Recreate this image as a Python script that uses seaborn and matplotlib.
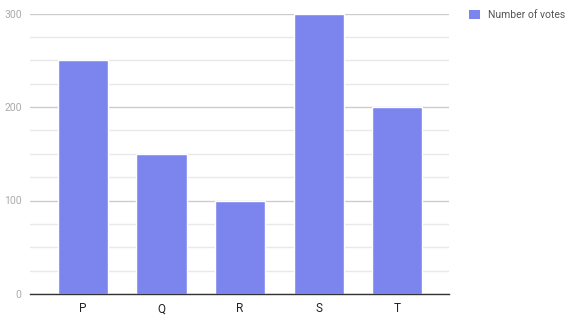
import matplotlib
matplotlib.use("Agg")
import matplotlib.pyplot as plt
import seaborn as sns
import pandas as pd
from matplotlib.patches import Patch

categories = ["P", "Q", "R", "S", "T"]
votes = [250, 150, 100, 300, 200]
series_name = "Number of votes"
y_ticks = [0, 100, 200, 300]
minor_ticks = [25, 50, 75, 125, 150, 175, 225, 250, 275]

color = "#7c84ee"
sns.set_theme(style="white")
plt.rcParams['font.family'] = ['Roboto', 'DejaVu Sans']

df = pd.DataFrame({"cat": categories, "val": votes})
fig = plt.figure(figsize=(5.79, 3.23), dpi=100)
ax = fig.add_axes([30/579, 29/323, 419/579, 280.5/323])
sns.barplot(data=df, x="cat", y="val", color=color, saturation=1, width=0.637, ax=ax, zorder=3)
ax.set_xlim(-0.675, 4.662)
ax.set_ylim(0, 300)
ax.set_yticks(y_ticks)
ax.set_yticks(minor_ticks, minor=True)
ax.grid(axis="y", which="major", color="#cccccc", linewidth=1, zorder=0)
ax.grid(axis="y", which="minor", color="#e8e8e8", linewidth=1, zorder=0)
ax.set_axisbelow(True)
for s in ["top", "right", "left"]:
    ax.spines[s].set_visible(False)
ax.spines["bottom"].set_color("#333333")
ax.spines["bottom"].set_linewidth(1)
ax.spines["bottom"].set_zorder(5)
ax.tick_params(axis="y", which="both", length=0, pad=6, labelsize=7.5, labelcolor="#aaaaaa")
ax.tick_params(axis="x", length=0, pad=6, labelsize=8.5, labelcolor="#222222")
ax.set_xlabel("")
ax.set_ylabel("")
leg = fig.legend(handles=[Patch(facecolor=color, edgecolor="none", label=series_name)],
                 loc="upper left", bbox_to_anchor=(465/579, 1 - 6/323), frameon=False,
                 fontsize=7.5, handlelength=1.0, handleheight=1.0, handletextpad=0.8,
                 borderaxespad=0)
for t in leg.get_texts():
    t.set_color("#555555")
fig.savefig("out.png", dpi=100)
